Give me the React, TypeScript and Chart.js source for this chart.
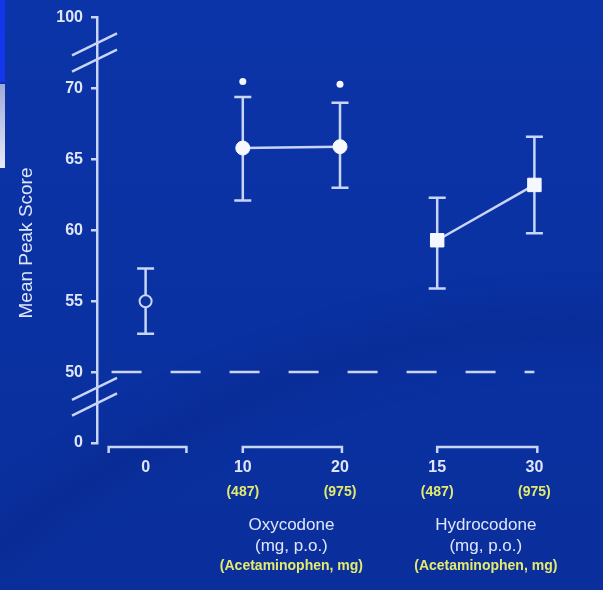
import React, { useEffect, useRef } from "react";
import { Chart, registerables } from "chart.js";

Chart.register(...registerables);

const FONT = "'Liberation Sans', Arial, Helvetica, sans-serif";
const LIGHT = "#c9d5f6";
const TEXT = "#dfe6fa";
const WHITE = "#f6f8ff";
const YELLOW = "#e3ea6e";
const BG = "#0a32a0";

// categories (x positions) and their labels
const positions = [0, 1, 2, 3, 4];
const doseLabels = ["0", "10", "20", "15", "30"];
const apapLabels = ["", "(487)", "(975)", "(487)", "(975)"];

// series: mean peak score with upper / lower error limits
const meanValues = [55.0, 65.8, 65.9, 59.3, 63.2];
const upperValues = [57.3, 69.4, 69.0, 62.3, 66.6];
const lowerValues = [52.7, 62.1, 63.0, 55.9, 59.8];
const starValues = [null, 70.5, 70.3, null, null];

const placeboIdx = [0];
const oxycodoneIdx = [1, 2];
const hydrocodoneIdx = [3, 4];

// groups under the x axis
const groupNames = ["Oxycodone", "Hydrocodone"];
const groupMembers = [oxycodoneIdx, hydrocodoneIdx];
const groupUnits = "(mg, p.o.)";
const groupApap = "(Acetaminophen, mg)";
const bracketRanges = [
  [-0.38, 0.42],
  [1, 2.02],
  [3, 4.03],
];

// y axis (broken: 45 shown as 0, 75 shown as 100)
const yTicks = [45, 50, 55, 60, 65, 70, 75];
const yTickLabels = ["0", "50", "55", "60", "65", "70", "100"];
const yTitle = "Mean Peak Score";
const referenceLevel = 50;
const referenceSpan = [-0.35, 4.0];
const breakLevels = [
  [73.2, 72.05],
  [48.9, 47.8],
];

const pts = (idx: number[]) => idx.map((i) => ({ x: positions[i], y: meanValues[i] }));

const decorPlugin = {
  id: "decor",
  beforeDraw(chart: any) {
    const { ctx, width, height } = chart;
    ctx.save();
    const g = ctx.createLinearGradient(0, 0, 0, height);
    g.addColorStop(0, "#0b34a8");
    g.addColorStop(1, "#0a2f9c");
    ctx.fillStyle = g;
    ctx.fillRect(0, 0, width, height);
    // faint darker swoosh
    ctx.save();
    ctx.filter = "blur(18px)";
    ctx.strokeStyle = "rgba(5, 30, 120, 0.35)";
    ctx.lineWidth = 30;
    ctx.beginPath();
    ctx.moveTo(-20, 560);
    ctx.quadraticCurveTo(300, 300, 640, 330);
    ctx.stroke();
    ctx.restore();
    ctx.fillStyle = "#1236ea";
    ctx.fillRect(0, 0, 5, 82);
    const g2 = ctx.createLinearGradient(0, 84, 0, 168);
    g2.addColorStop(0, "#9fa9d9");
    g2.addColorStop(1, "#e6eaf7");
    ctx.fillStyle = g2;
    ctx.fillRect(0, 84, 5, 84);
    ctx.restore();
  },
  beforeDatasetsDraw(chart: any) {
    const { ctx, scales } = chart;
    const x = scales.x;
    const y = scales.y;
    ctx.save();
    ctx.strokeStyle = LIGHT;
    ctx.lineWidth = 2.5;
    positions.forEach((p, i) => {
      const px = x.getPixelForValue(p);
      const top = y.getPixelForValue(upperValues[i]);
      const bot = y.getPixelForValue(lowerValues[i]);
      ctx.beginPath();
      ctx.moveTo(px, top);
      ctx.lineTo(px, bot);
      ctx.moveTo(px - 8.5, top);
      ctx.lineTo(px + 8.5, top);
      ctx.moveTo(px - 8.5, bot);
      ctx.lineTo(px + 8.5, bot);
      ctx.stroke();
    });
    ctx.restore();
  },
  afterDraw(chart: any) {
    const { ctx, scales, chartArea } = chart;
    const x = scales.x;
    const y = scales.y;
    const axisX = chartArea.left;
    ctx.save();
    // axis break marks
    ctx.strokeStyle = LIGHT;
    ctx.lineWidth = 2.5;
    breakLevels.forEach((pair) => {
      pair.forEach((v) => {
        const yc = y.getPixelForValue(v);
        ctx.beginPath();
        ctx.moveTo(axisX - 25, yc + 25 * 0.49);
        ctx.lineTo(axisX + 20, yc - 20 * 0.49);
        ctx.stroke();
      });
    });
    // group brackets
    const by = chartArea.bottom + 4;
    bracketRanges.forEach(([a, b]) => {
      const xa = x.getPixelForValue(a);
      const xb = x.getPixelForValue(b);
      ctx.beginPath();
      ctx.moveTo(xa, by + 6);
      ctx.lineTo(xa, by);
      ctx.lineTo(xb, by);
      ctx.lineTo(xb, by + 6);
      ctx.stroke();
    });
    // x labels
    ctx.textAlign = "center";
    ctx.textBaseline = "middle";
    positions.forEach((p, i) => {
      const px = x.getPixelForValue(p);
      ctx.fillStyle = TEXT;
      ctx.font = `bold 16px ${FONT}`;
      ctx.fillText(doseLabels[i], px, chartArea.bottom + 25);
      if (apapLabels[i]) {
        ctx.fillStyle = YELLOW;
        ctx.font = `bold 14px ${FONT}`;
        ctx.fillText(apapLabels[i], px, chartArea.bottom + 49);
      }
    });
    groupNames.forEach((name, gi) => {
      const mem = groupMembers[gi];
      const cx = (x.getPixelForValue(positions[mem[0]]) + x.getPixelForValue(positions[mem[mem.length - 1]])) / 2;
      ctx.fillStyle = TEXT;
      ctx.font = `17px ${FONT}`;
      ctx.fillText(name, cx, chartArea.bottom + 82);
      ctx.fillText(groupUnits, cx, chartArea.bottom + 103);
      ctx.fillStyle = YELLOW;
      ctx.font = `bold 14px ${FONT}`;
      ctx.fillText(groupApap, cx, chartArea.bottom + 123);
    });
    // y title
    ctx.translate(27, 243);
    ctx.rotate(-Math.PI / 2);
    ctx.fillStyle = TEXT;
    ctx.font = `19px ${FONT}`;
    ctx.fillText(yTitle, 0, 0);
    ctx.restore();
  },
};

export default function App() {
  const ref = useRef<HTMLCanvasElement>(null);
  useEffect(() => {
    const chart = new Chart(ref.current as HTMLCanvasElement, {
      type: "scatter",
      data: {
        datasets: [
          {
            label: "Oxycodone",
            data: pts(oxycodoneIdx),
            showLine: true,
            borderColor: LIGHT,
            borderWidth: 2.5,
            pointStyle: "circle",
            pointRadius: 7,
            pointBackgroundColor: WHITE,
            pointBorderColor: WHITE,
            pointBorderWidth: 1,
          },
          {
            label: "Hydrocodone",
            data: pts(hydrocodoneIdx),
            showLine: true,
            borderColor: LIGHT,
            borderWidth: 2.5,
            pointStyle: "rect",
            pointRadius: 9.5,
            pointBackgroundColor: WHITE,
            pointBorderColor: WHITE,
            pointBorderWidth: 1,
          },
          {
            label: "Placebo",
            data: pts(placeboIdx),
            showLine: false,
            pointStyle: "circle",
            pointRadius: 6,
            pointBackgroundColor: BG,
            pointBorderColor: LIGHT,
            pointBorderWidth: 2,
          },
          {
            label: "Significant",
            data: positions
              .map((p, i) => ({ x: p, y: starValues[i] }))
              .filter((d) => d.y !== null) as any,
            showLine: false,
            pointStyle: "circle",
            pointRadius: 3.5,
            pointBackgroundColor: WHITE,
            pointBorderColor: WHITE,
            pointBorderWidth: 0,
          },
          {
            label: "Reference",
            data: referenceSpan.map((v) => ({ x: v, y: referenceLevel })),
            showLine: true,
            borderColor: LIGHT,
            borderWidth: 2.5,
            borderDash: [30, 29],
            pointRadius: 0,
          },
        ],
      },
      options: {
        animation: false,
        responsive: false,
        maintainAspectRatio: false,
        layout: { padding: { left: 0, top: 15, right: 20, bottom: 147 } },
        plugins: {
          legend: { display: false },
          tooltip: { enabled: false },
          title: { display: false },
        },
        scales: {
          x: { type: "linear", min: -0.5, max: 4.5, display: false },
          y: {
            type: "linear",
            min: 45,
            max: 75,
            afterBuildTicks: (s: any) => {
              s.ticks = yTicks.map((v) => ({ value: v }));
            },
            afterFit: (s: any) => {
              s.width = 97;
            },
            ticks: {
              autoSkip: false,
              padding: 8,
              color: TEXT,
              font: { size: 16, family: FONT, weight: "bold" },
              callback: (v: any) => {
                const i = yTicks.indexOf(Number(v));
                return i >= 0 ? yTickLabels[i] : "";
              },
            },
            grid: {
              display: true,
              drawOnChartArea: false,
              drawTicks: true,
              tickLength: 6,
              color: LIGHT,
              lineWidth: 2.5,
            },
            border: { display: true, color: LIGHT, width: 2.5 },
          },
        },
      },
      plugins: [decorPlugin],
    } as any);
    return () => chart.destroy();
  }, []);
  return (
    <div style={{ position: "fixed", left: 0, top: 0, width: 603, height: 590, background: BG }}>
      <canvas ref={ref} width={603} height={590} style={{ display: "block", width: 603, height: 590 }} />
    </div>
  );
}
